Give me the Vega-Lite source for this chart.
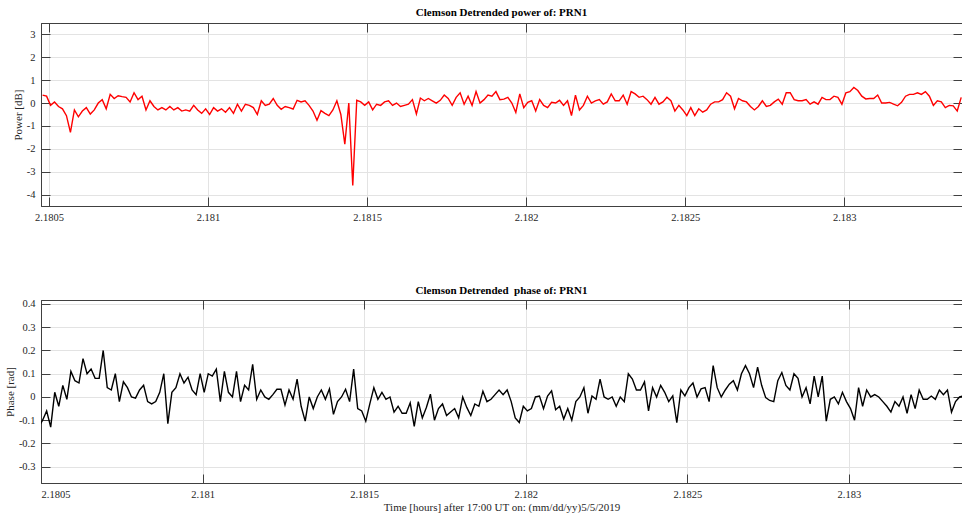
{
"$schema": "https://vega.github.io/schema/vega-lite/v6.json",
"background": "white",
"padding": {"left": 3, "top": 6, "right": 0, "bottom": 0},
"spacing": 61,
"data": {"values": [
{"t":2.18048,"p":0.35,"ph":-0.12},{"t":2.1804925,"p":0.3,"ph":-0.13},{"t":2.180505,"p":-0.1,"ph":-0.1},{"t":2.1805175,"p":0.05,"ph":-0.06},{"t":2.18053,"p":-0.15,"ph":-0.13},{"t":2.1805425,"p":-0.25,"ph":0.02},{"t":2.180555,"p":-0.55,"ph":-0.04},{"t":2.1805675,"p":-1.28,"ph":0.05},
{"t":2.18058,"p":-0.3,"ph":-0.01},{"t":2.1805925,"p":-0.6,"ph":0.11},{"t":2.180605,"p":-0.35,"ph":0.07},{"t":2.1806175,"p":-0.2,"ph":0.06},{"t":2.18063,"p":-0.48,"ph":0.165},{"t":2.1806425,"p":-0.3,"ph":0.1},{"t":2.180655,"p":0.0,"ph":0.12},{"t":2.1806675,"p":0.15,"ph":0.08},
{"t":2.18068,"p":-0.25,"ph":0.08},{"t":2.1806925,"p":0.38,"ph":0.2},{"t":2.180705,"p":0.2,"ph":0.04},{"t":2.1807175,"p":0.32,"ph":0.03},{"t":2.18073,"p":0.28,"ph":0.1},{"t":2.1807425,"p":0.25,"ph":-0.02},{"t":2.180755,"p":0.05,"ph":0.065},{"t":2.1807675,"p":0.45,"ph":0.04},
{"t":2.18078,"p":0.15,"ph":0.0},{"t":2.1807925,"p":0.3,"ph":-0.005},{"t":2.180805,"p":-0.3,"ph":0.03},{"t":2.1808175,"p":0.1,"ph":0.05},{"t":2.18083,"p":-0.15,"ph":-0.02},{"t":2.1808425,"p":-0.3,"ph":-0.03},{"t":2.180855,"p":-0.2,"ph":-0.02},{"t":2.1808675,"p":-0.3,"ph":0.02},
{"t":2.18088,"p":-0.15,"ph":0.1},{"t":2.1808925,"p":-0.3,"ph":-0.115},{"t":2.180905,"p":-0.2,"ph":0.02},{"t":2.1809175,"p":-0.35,"ph":0.04},{"t":2.18093,"p":-0.3,"ph":0.1},{"t":2.1809425,"p":-0.35,"ph":0.06},{"t":2.180955,"p":-0.1,"ph":0.085},{"t":2.1809675,"p":-0.3,"ph":0.03},
{"t":2.18098,"p":-0.45,"ph":0.01},{"t":2.1809925,"p":-0.25,"ph":0.1},{"t":2.181005,"p":-0.5,"ph":0.02},{"t":2.1810175,"p":-0.2,"ph":0.1},{"t":2.18103,"p":-0.35,"ph":0.09},{"t":2.1810425,"p":-0.25,"ph":0.12},{"t":2.181055,"p":-0.4,"ph":-0.02},{"t":2.1810675,"p":-0.2,"ph":0.11},
{"t":2.18108,"p":-0.45,"ph":0.02},{"t":2.1810925,"p":-0.05,"ph":0.0},{"t":2.181105,"p":-0.35,"ph":0.11},{"t":2.1811175,"p":-0.05,"ph":-0.02},{"t":2.18113,"p":-0.1,"ph":0.05},{"t":2.1811425,"p":-0.2,"ph":0.03},{"t":2.181155,"p":-0.5,"ph":0.14},{"t":2.1811675,"p":0.1,"ph":-0.01},
{"t":2.18118,"p":-0.1,"ph":0.03},{"t":2.1811925,"p":-0.05,"ph":0.0},{"t":2.181205,"p":0.2,"ph":-0.01},{"t":2.1812175,"p":-0.1,"ph":0.01},{"t":2.18123,"p":-0.27,"ph":0.033},{"t":2.1812425,"p":-0.15,"ph":0.033},{"t":2.181255,"p":-0.2,"ph":-0.035},{"t":2.1812675,"p":-0.26,"ph":0.03},
{"t":2.18128,"p":0.12,"ph":-0.01},{"t":2.1812925,"p":0.05,"ph":0.077},{"t":2.181305,"p":0.1,"ph":-0.04},{"t":2.1813175,"p":-0.1,"ph":-0.104},{"t":2.18133,"p":-0.35,"ph":0.0},{"t":2.1813425,"p":-0.75,"ph":-0.05},{"t":2.181355,"p":-0.33,"ph":0.0},{"t":2.1813675,"p":-0.45,"ph":0.03},
{"t":2.18138,"p":-0.55,"ph":-0.01},{"t":2.1813925,"p":-0.3,"ph":0.035},{"t":2.181405,"p":0.1,"ph":-0.075},{"t":2.1814175,"p":-0.5,"ph":-0.02},{"t":2.18143,"p":-1.8,"ph":0.0},{"t":2.1814425,"p":0.0,"ph":0.033},{"t":2.181455,"p":-3.6,"ph":-0.02},{"t":2.1814675,"p":0.12,"ph":0.12},
{"t":2.18148,"p":0.05,"ph":-0.05},{"t":2.1814925,"p":-0.1,"ph":-0.06},{"t":2.181505,"p":0.05,"ph":-0.104},{"t":2.1815175,"p":-0.3,"ph":-0.03},{"t":2.18153,"p":-0.05,"ph":0.04},{"t":2.1815425,"p":-0.1,"ph":-0.01},{"t":2.181555,"p":0.05,"ph":0.02},{"t":2.1815675,"p":0.1,"ph":-0.01},
{"t":2.18158,"p":-0.1,"ph":0.0},{"t":2.1815925,"p":0.0,"ph":-0.065},{"t":2.181605,"p":-0.15,"ph":-0.04},{"t":2.1816175,"p":-0.1,"ph":-0.07},{"t":2.18163,"p":-0.05,"ph":-0.07},{"t":2.1816425,"p":0.15,"ph":-0.025},{"t":2.181655,"p":-0.48,"ph":-0.126},{"t":2.1816675,"p":0.22,"ph":-0.02},
{"t":2.18168,"p":0.1,"ph":-0.09},{"t":2.1816925,"p":0.2,"ph":-0.045},{"t":2.181705,"p":0.1,"ph":0.012},{"t":2.1817175,"p":0.0,"ph":-0.1},{"t":2.18173,"p":0.12,"ph":-0.05},{"t":2.1817425,"p":0.35,"ph":-0.03},{"t":2.181755,"p":0.2,"ph":-0.08},{"t":2.1817675,"p":-0.1,"ph":-0.065},
{"t":2.18178,"p":0.25,"ph":-0.05},{"t":2.1817925,"p":0.45,"ph":-0.09},{"t":2.181805,"p":-0.05,"ph":0.0},{"t":2.1818175,"p":0.3,"ph":-0.045},{"t":2.18183,"p":-0.1,"ph":-0.08},{"t":2.1818425,"p":0.5,"ph":-0.03},{"t":2.181855,"p":0.0,"ph":-0.04},{"t":2.1818675,"p":0.15,"ph":0.025},
{"t":2.18188,"p":0.35,"ph":-0.02},{"t":2.1818925,"p":0.3,"ph":-0.01},{"t":2.181905,"p":0.5,"ph":0.01},{"t":2.1819175,"p":0.15,"ph":0.03},{"t":2.18193,"p":0.17,"ph":0.01},{"t":2.1819425,"p":0.25,"ph":0.03},{"t":2.181955,"p":0.0,"ph":-0.02},{"t":2.1819675,"p":-0.41,"ph":-0.09},
{"t":2.18198,"p":0.4,"ph":-0.11},{"t":2.1819925,"p":-0.2,"ph":-0.04},{"t":2.182005,"p":0.03,"ph":-0.06},{"t":2.1820175,"p":0.1,"ph":-0.05},{"t":2.18203,"p":-0.35,"ph":0.0},{"t":2.1820425,"p":0.15,"ph":0.004},{"t":2.182055,"p":-0.1,"ph":-0.05},{"t":2.1820675,"p":-0.2,"ph":0.004},
{"t":2.18208,"p":0.03,"ph":0.026},{"t":2.1820925,"p":0.0,"ph":-0.055},{"t":2.182105,"p":0.12,"ph":-0.04},{"t":2.1821175,"p":-0.1,"ph":-0.095},{"t":2.18213,"p":0.1,"ph":-0.05},{"t":2.1821425,"p":-0.55,"ph":-0.1},{"t":2.182155,"p":0.35,"ph":-0.02},{"t":2.1821675,"p":-0.3,"ph":0.0},
{"t":2.18218,"p":-0.1,"ph":0.04},{"t":2.1821925,"p":0.3,"ph":-0.07},{"t":2.182205,"p":0.0,"ph":0.004},{"t":2.1822175,"p":0.1,"ph":-0.01},{"t":2.18223,"p":0.15,"ph":0.077},{"t":2.1822425,"p":-0.05,"ph":0.0},{"t":2.182255,"p":0.05,"ph":-0.01},{"t":2.1822675,"p":0.4,"ph":0.0},
{"t":2.18228,"p":0.1,"ph":-0.04},{"t":2.1822925,"p":0.1,"ph":0.0},{"t":2.182305,"p":0.35,"ph":-0.02},{"t":2.1823175,"p":-0.05,"ph":0.1},{"t":2.18233,"p":0.5,"ph":0.077},{"t":2.1823425,"p":0.4,"ph":0.03},{"t":2.182355,"p":0.25,"ph":0.03},{"t":2.1823675,"p":0.3,"ph":0.065},
{"t":2.18238,"p":0.15,"ph":-0.06},{"t":2.1823925,"p":-0.05,"ph":0.04},{"t":2.182405,"p":0.25,"ph":0.0},{"t":2.1824175,"p":-0.05,"ph":0.05},{"t":2.18243,"p":0.05,"ph":0.02},{"t":2.1824425,"p":0.25,"ph":-0.02},{"t":2.182455,"p":0.1,"ph":0.005},{"t":2.1824675,"p":-0.35,"ph":-0.11},
{"t":2.18248,"p":-0.1,"ph":0.03},{"t":2.1824925,"p":-0.3,"ph":0.005},{"t":2.182505,"p":-0.55,"ph":0.04},{"t":2.1825175,"p":-0.2,"ph":0.06},{"t":2.18253,"p":-0.55,"ph":0.0},{"t":2.1825425,"p":-0.25,"ph":0.035},{"t":2.182555,"p":-0.4,"ph":0.04},{"t":2.1825675,"p":-0.3,"ph":-0.02},
{"t":2.18258,"p":-0.05,"ph":0.135},{"t":2.1825925,"p":0.05,"ph":0.04},{"t":2.182605,"p":0.05,"ph":0.0},{"t":2.1826175,"p":0.15,"ph":0.03},{"t":2.18263,"p":0.45,"ph":0.055},{"t":2.1826425,"p":0.3,"ph":0.07},{"t":2.182655,"p":-0.25,"ph":0.03},{"t":2.1826675,"p":0.2,"ph":0.1},
{"t":2.18268,"p":0.1,"ph":0.135},{"t":2.1826925,"p":0.05,"ph":0.1},{"t":2.182705,"p":-0.15,"ph":0.04},{"t":2.1827175,"p":-0.3,"ph":0.128},{"t":2.18273,"p":-0.15,"ph":0.05},{"t":2.1827425,"p":0.1,"ph":-0.003},{"t":2.182755,"p":-0.15,"ph":-0.015},{"t":2.1827675,"p":-0.1,"ph":-0.02},
{"t":2.18278,"p":0.05,"ph":0.07},{"t":2.1827925,"p":0.17,"ph":0.105},{"t":2.182805,"p":-0.05,"ph":0.05},{"t":2.1828175,"p":0.45,"ph":0.03},{"t":2.18283,"p":0.45,"ph":0.1},{"t":2.1828425,"p":0.15,"ph":0.08},{"t":2.182855,"p":0.1,"ph":0.0},{"t":2.1828675,"p":0.1,"ph":0.04},
{"t":2.18288,"p":0.15,"ph":-0.03},{"t":2.1828925,"p":-0.05,"ph":0.09},{"t":2.182905,"p":0.05,"ph":0.0},{"t":2.1829175,"p":-0.05,"ph":0.09},{"t":2.18293,"p":0.25,"ph":-0.104},{"t":2.1829425,"p":0.15,"ph":-0.01},{"t":2.182955,"p":0.15,"ph":0.0},{"t":2.1829675,"p":0.3,"ph":-0.03},
{"t":2.18298,"p":0.25,"ph":0.02},{"t":2.1829925,"p":-0.05,"ph":-0.02},{"t":2.183005,"p":0.45,"ph":-0.05},{"t":2.1830175,"p":0.5,"ph":-0.1},{"t":2.18303,"p":0.68,"ph":0.04},{"t":2.1830425,"p":0.55,"ph":-0.04},{"t":2.183055,"p":0.3,"ph":0.03},{"t":2.1830675,"p":0.18,"ph":0.0},
{"t":2.18308,"p":0.2,"ph":0.01},{"t":2.1830925,"p":0.2,"ph":0.0},{"t":2.183105,"p":0.35,"ph":-0.02},{"t":2.1831175,"p":0.0,"ph":-0.04},{"t":2.18313,"p":0.0,"ph":-0.065},{"t":2.1831425,"p":0.03,"ph":-0.02},{"t":2.183155,"p":-0.05,"ph":-0.04},{"t":2.1831675,"p":-0.12,"ph":0.0},
{"t":2.18318,"p":0.03,"ph":-0.07},{"t":2.1831925,"p":0.3,"ph":0.01},{"t":2.183205,"p":0.38,"ph":-0.05},{"t":2.1832175,"p":0.38,"ph":0.03},{"t":2.18323,"p":0.45,"ph":-0.01},{"t":2.1832425,"p":0.38,"ph":-0.01},{"t":2.183255,"p":0.5,"ph":0.004},{"t":2.1832675,"p":0.3,"ph":-0.01},
{"t":2.18328,"p":-0.1,"ph":0.03},{"t":2.1832925,"p":0.1,"ph":0.01},{"t":2.183305,"p":0.05,"ph":0.03},{"t":2.1833175,"p":-0.2,"ph":-0.065},{"t":2.18333,"p":-0.1,"ph":-0.02},{"t":2.1833425,"p":-0.12,"ph":0.0},{"t":2.183355,"p":-0.35,"ph":0.005},{"t":2.1833675,"p":0.25,"ph":0.0}
]},
"config": {
  "font": "Liberation Serif",
  "view": {"stroke": "#404040", "strokeWidth": 1},
  "axis": {
    "labelFont": "Liberation Serif", "labelFontSize": 10.5, "labelColor": "#262626",
    "titleFont": "Liberation Serif", "titleFontSize": 11, "titleFontWeight": "normal", "titleColor": "#262626",
    "domainColor": "#404040", "tickColor": "#404040", "tickSize": -9, "labelPadding": 15,
    "gridColor": "#e3e3e3", "gridWidth": 1
  },
  "title": {"font": "Liberation Serif", "fontSize": 11, "fontWeight": "bold", "color": "#000000", "anchor": "middle", "offset": 4}
},
"vconcat": [
  {
    "width": 921, "height": 183,
    "title": {"text": "Clemson Detrended power of: PRN1", "offset": 5},
    "layer": [
      {
        "mark": {"type": "line", "color": "#ff0000", "strokeWidth": 1.4, "clip": true},
        "encoding": {
          "x": {"field": "t", "type": "quantitative", "scale": {"domain": [2.180475, 2.18337], "nice": false, "zero": false},
                "axis": {"values": [2.1805, 2.181, 2.1815, 2.182, 2.1825, 2.183], "labelExpr": "datum.value + ''", "title": null}},
          "y": {"field": "p", "type": "quantitative", "scale": {"domain": [-4.5, 3.5], "nice": false},
                "axis": {"values": [-4, -3, -2, -1, 0, 1, 2, 3], "labelExpr": "datum.value + ''", "title": "Power [dB]", "titlePadding": 3}}
        }
      },
      {
        "mark": {"type": "line", "opacity": 0, "clip": true},
        "encoding": {
          "x": {"field": "t", "type": "quantitative", "axis": {"orient": "top", "values": [2.1805, 2.181, 2.1815, 2.182, 2.1825, 2.183], "labels": false, "grid": false, "title": null}},
          "y": {"field": "p", "type": "quantitative", "axis": {"orient": "right", "values": [-4, -3, -2, -1, 0, 1, 2, 3], "labels": false, "grid": false, "title": null}}
        }
      }
    ],
    "resolve": {"axis": {"x": "independent", "y": "independent"}}
  },
  {
    "width": 921, "height": 183,
    "title": {"text": "Clemson Detrended\u00a0 phase of: PRN1", "offset": 3},
    "layer": [
      {
        "mark": {"type": "line", "color": "#000000", "strokeWidth": 1.4, "clip": true},
        "encoding": {
          "x": {"field": "t", "type": "quantitative", "scale": {"domain": [2.1805, 2.18335], "nice": false, "zero": false},
                "axis": {"values": [2.1805, 2.181, 2.1815, 2.182, 2.1825, 2.183], "labelExpr": "datum.value + ''", "title": "Time [hours] after 17:00 UT on: (mm/dd/yy)5/5/2019", "titlePadding": 2}},
          "y": {"field": "ph", "type": "quantitative", "scale": {"domain": [-0.37, 0.417], "nice": false},
                "axis": {"values": [-0.3, -0.2, -0.1, 0, 0.1, 0.2, 0.3, 0.4], "labelExpr": "datum.value + ''", "title": "Phase [rad]", "titlePadding": 3}}
        }
      },
      {
        "mark": {"type": "line", "opacity": 0, "clip": true},
        "encoding": {
          "x": {"field": "t", "type": "quantitative", "axis": {"orient": "top", "values": [2.1805, 2.181, 2.1815, 2.182, 2.1825, 2.183], "labels": false, "grid": false, "title": null}},
          "y": {"field": "ph", "type": "quantitative", "axis": {"orient": "right", "values": [-0.3, -0.2, -0.1, 0, 0.1, 0.2, 0.3, 0.4], "labels": false, "grid": false, "title": null}}
        }
      }
    ],
    "resolve": {"axis": {"x": "independent", "y": "independent"}}
  }
]
}
